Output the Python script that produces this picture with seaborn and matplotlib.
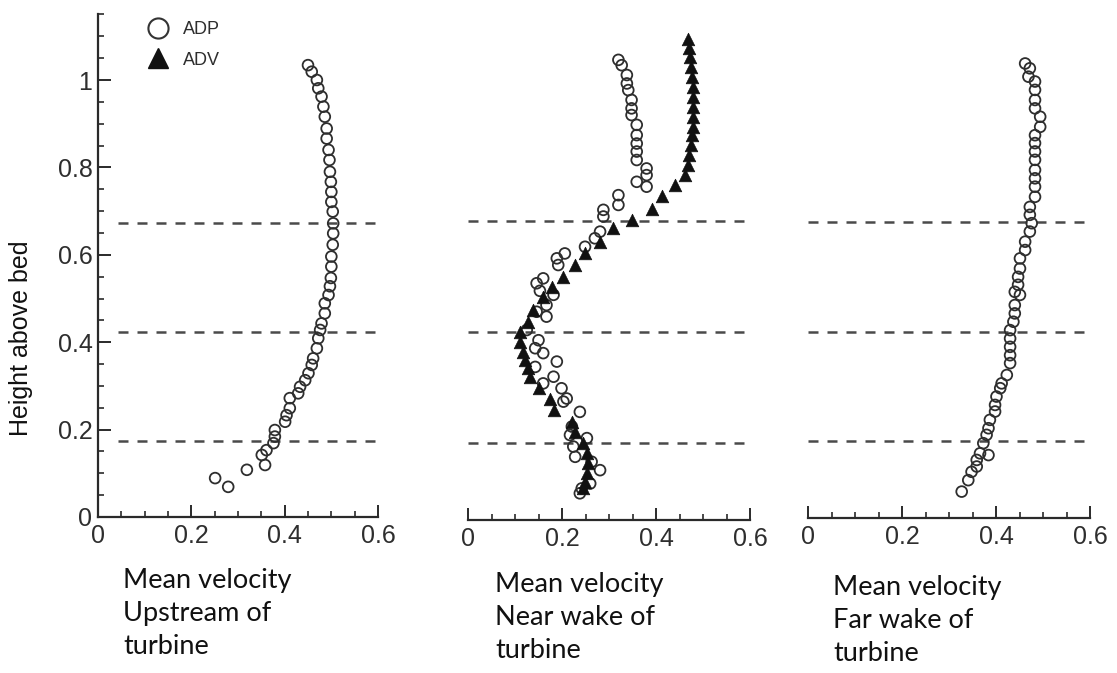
import matplotlib
matplotlib.use("Agg")
import matplotlib.pyplot as plt
from matplotlib.lines import Line2D
from matplotlib.ticker import MultipleLocator, FuncFormatter
import pandas as pd
import seaborn as sns

# ---------------- data ----------------
up_adp_u = [0.450, 0.458, 0.469, 0.472, 0.479, 0.483, 0.486, 0.490, 0.490, 0.494,
            0.496, 0.497, 0.499, 0.500, 0.500, 0.503, 0.504, 0.504, 0.503, 0.500,
            0.500, 0.499, 0.497, 0.494, 0.486, 0.486, 0.479, 0.476, 0.472, 0.469,
            0.461, 0.458, 0.451, 0.444, 0.433, 0.429, 0.411, 0.411, 0.404, 0.401,
            0.379, 0.379, 0.376, 0.361, 0.351, 0.358, 0.319, 0.251, 0.279]
up_adp_z = [1.034, 1.019, 1.000, 0.981, 0.962, 0.939, 0.916, 0.889, 0.866, 0.840,
            0.817, 0.790, 0.767, 0.744, 0.721, 0.699, 0.672, 0.649, 0.623, 0.596,
            0.573, 0.547, 0.528, 0.508, 0.489, 0.466, 0.443, 0.428, 0.409, 0.386,
            0.363, 0.348, 0.329, 0.313, 0.298, 0.283, 0.272, 0.249, 0.233, 0.218,
            0.199, 0.184, 0.169, 0.153, 0.142, 0.119, 0.108, 0.089, 0.069]

near_adp_u = [0.320, 0.327, 0.338, 0.338, 0.341, 0.348, 0.348, 0.348, 0.359, 0.359,
              0.359, 0.359, 0.359, 0.380, 0.380, 0.359, 0.380, 0.320, 0.320, 0.288,
              0.288, 0.281, 0.270, 0.249, 0.206, 0.189, 0.192, 0.160, 0.146, 0.153,
              0.182, 0.167, 0.146, 0.167, 0.125, 0.150, 0.143, 0.160, 0.189, 0.143,
              0.182, 0.160, 0.199, 0.210, 0.203, 0.238, 0.221, 0.217, 0.253, 0.224,
              0.228, 0.263, 0.281, 0.260, 0.242, 0.238]
near_adp_z = [1.034, 1.022, 1.000, 0.981, 0.966, 0.944, 0.925, 0.910, 0.888, 0.865,
              0.846, 0.828, 0.809, 0.790, 0.775, 0.760, 0.749, 0.730, 0.708, 0.697,
              0.682, 0.648, 0.633, 0.614, 0.599, 0.588, 0.573, 0.543, 0.532, 0.515,
              0.506, 0.483, 0.468, 0.457, 0.427, 0.404, 0.386, 0.375, 0.356, 0.344,
              0.322, 0.307, 0.296, 0.273, 0.266, 0.243, 0.210, 0.191, 0.184, 0.165,
              0.142, 0.131, 0.112, 0.082, 0.071, 0.060]

near_adv_u = [0.469, 0.471, 0.472, 0.474, 0.476, 0.478, 0.479, 0.479, 0.479, 0.478,
              0.476, 0.474, 0.471, 0.469, 0.462, 0.440, 0.412, 0.391, 0.348, 0.309,
              0.281, 0.249, 0.228, 0.203, 0.178, 0.160, 0.139, 0.128, 0.111, 0.111,
              0.118, 0.121, 0.128, 0.132, 0.150, 0.174, 0.182, 0.221, 0.228, 0.245,
              0.253, 0.256, 0.253, 0.249, 0.245]
near_adv_z = [1.082, 1.060, 1.041, 1.019, 0.996, 0.974, 0.951, 0.929, 0.906, 0.884,
              0.865, 0.843, 0.820, 0.798, 0.775, 0.753, 0.727, 0.700, 0.674, 0.656,
              0.625, 0.599, 0.573, 0.547, 0.524, 0.502, 0.472, 0.446, 0.423, 0.401,
              0.378, 0.360, 0.341, 0.322, 0.296, 0.273, 0.247, 0.221, 0.198, 0.172,
              0.150, 0.127, 0.105, 0.086, 0.071]

far_adp_u = [0.462, 0.472, 0.469, 0.483, 0.483, 0.483, 0.483, 0.494, 0.494, 0.483,
             0.483, 0.483, 0.483, 0.483, 0.483, 0.483, 0.483, 0.472, 0.472, 0.476,
             0.472, 0.462, 0.462, 0.451, 0.451, 0.447, 0.447, 0.440, 0.451, 0.440,
             0.440, 0.437, 0.430, 0.430, 0.430, 0.430, 0.430, 0.423, 0.412, 0.409,
             0.401, 0.398, 0.398, 0.387, 0.384, 0.380, 0.373, 0.384, 0.366, 0.359,
             0.359, 0.348, 0.341, 0.327]
far_adp_z = [1.033, 1.022, 1.003, 0.992, 0.973, 0.950, 0.931, 0.912, 0.889, 0.870,
             0.852, 0.833, 0.814, 0.791, 0.772, 0.753, 0.730, 0.707, 0.689, 0.670,
             0.651, 0.628, 0.609, 0.590, 0.567, 0.548, 0.530, 0.514, 0.507, 0.484,
             0.465, 0.446, 0.427, 0.408, 0.389, 0.370, 0.352, 0.325, 0.306, 0.295,
             0.276, 0.257, 0.242, 0.223, 0.204, 0.189, 0.170, 0.143, 0.147, 0.132,
             0.117, 0.105, 0.086, 0.060]

turbine_levels = [0.174, 0.423, 0.673]
x_ticks = [0, 0.2, 0.4, 0.6]
y_ticks = [0, 0.2, 0.4, 0.6, 0.8, 1.0]
series_labels = ["ADP", "ADV"]
y_label = "Height above bed"
captions = [["Mean velocity", "Upstream of", "turbine"],
            ["Mean velocity", "Near wake of", "turbine"],
            ["Mean velocity", "Far wake of", "turbine"]]

# ---------------- style ----------------
sns.set_style("ticks")
plt.rcParams['font.family'] = ['Liberation Sans', 'DejaVu Sans']

W, H = 1117, 673
fig = plt.figure(figsize=(W / 100, H / 100), dpi=100)


def px_axes(x0, x1, ybase, unit):
    ytop = ybase - 1.15 * unit
    return fig.add_axes([x0 / W, 1 - ybase / H, (x1 - x0) / W, (ybase - ytop) / H])


ax1 = px_axes(98, 378, 517, 437)
ax2 = px_axes(468, 750, 520, 445)
ax3 = px_axes(808, 1090, 518, 440)

AX_COL = "#2a2a2a"
fmt = FuncFormatter(lambda v, p: "{:g}".format(round(v, 2)))

for i, ax in enumerate([ax1, ax2, ax3]):
    ax.set_xlim(0, 0.6)
    ax.set_ylim(0, 1.15)
    ax.set_facecolor("none")
    for s in ["top", "right"]:
        ax.spines[s].set_visible(False)
    ax.spines["bottom"].set_color(AX_COL)
    ax.spines["bottom"].set_linewidth(1.6)
    ax.spines["left"].set_color(AX_COL)
    ax.spines["left"].set_linewidth(1.6)
    ax.set_xticks(x_ticks)
    ax.xaxis.set_minor_locator(MultipleLocator(0.05))
    ax.xaxis.set_major_formatter(fmt)
    ax.tick_params(axis="x", which="major", direction="in", length=9, width=1.4,
                   color=AX_COL, labelsize=18, labelcolor="#2e2e2e", pad=5)
    ax.tick_params(axis="x", which="minor", direction="in", length=4.5, width=1.2,
                   color=AX_COL)
    if i == 0:
        ax.set_yticks(y_ticks)
        ax.yaxis.set_minor_locator(MultipleLocator(0.05))
        ax.yaxis.set_major_formatter(fmt)
        ax.tick_params(axis="y", which="major", direction="in", length=9, width=1.4,
                       color=AX_COL, labelsize=18, labelcolor="#2e2e2e", pad=4)
        ax.tick_params(axis="y", which="minor", direction="in", length=4.5, width=1.2,
                       color=AX_COL)
    else:
        ax.spines["left"].set_visible(False)
        ax.set_yticks([])
        ax.yaxis.set_minor_locator(plt.NullLocator())
    xmin = 0.07 if i == 0 else 0.0
    for lvl in turbine_levels:
        ax.axhline(lvl, xmin=xmin, xmax=1.0, color="#4a4a4a", lw=1.8,
                   ls=(0, (4.0, 3.6)), zorder=1)

circle_kw = dict(marker="o", s=60, facecolors="none", edgecolor="#2e2e2e",
                 linewidth=1.3, zorder=3, legend=False)
tri_kw = dict(marker="^", s=82, color="#111111", edgecolor="#111111",
              linewidth=0.5, zorder=4, legend=False)

df_up = pd.DataFrame({"u": up_adp_u, "z": up_adp_z})
df_na = pd.DataFrame({"u": near_adp_u, "z": near_adp_z})
df_nv = pd.DataFrame({"u": near_adv_u, "z": near_adv_z})
df_far = pd.DataFrame({"u": far_adp_u, "z": far_adp_z})

sns.scatterplot(data=df_up, x="u", y="z", ax=ax1, color="#2e2e2e", **circle_kw)
sns.scatterplot(data=df_nv, x="u", y="z", ax=ax2, **tri_kw)
sns.scatterplot(data=df_na, x="u", y="z", ax=ax2, color="#2e2e2e", **circle_kw)
sns.scatterplot(data=df_far, x="u", y="z", ax=ax3, color="#2e2e2e", **circle_kw)
for ax in [ax1, ax2, ax3]:
    ax.set_xlabel("")
    ax.set_ylabel("")

# legend
handles = [Line2D([], [], marker="o", ls="", mfc="none", mec="#333333", ms=14.5, mew=1.5),
           Line2D([], [], marker="^", ls="", mfc="#111111", mec="#111111", ms=14)]
leg = ax1.legend(handles, series_labels, loc="upper left",
                 bbox_to_anchor=(147 / W, 1 - 21 / H), bbox_transform=fig.transFigure,
                 frameon=False, fontsize=13, handlelength=1.2, handletextpad=0.8,
                 labelspacing=0.75, borderpad=0, borderaxespad=0)
for t in leg.get_texts():
    t.set_color("#2e2e2e")

# y label
fig.text(21 / W, 1 - 338 / H, y_label, rotation=90, ha="center", va="center",
         fontsize=18, color="#111111", family=["Liberation Sans", "DejaVu Sans"])

# captions
cap_pos = [(123, 588), (495, 592), (833, 595)]
for (cx, cy), lines in zip(cap_pos, captions):
    for k, line in enumerate(lines):
        fig.text(cx / W, 1 - (cy + 33 * k) / H, line, ha="left", va="baseline",
                 fontsize=19.5, color="#111111", family=["Lato", "DejaVu Sans"])

fig.savefig("out.png", dpi=100)
